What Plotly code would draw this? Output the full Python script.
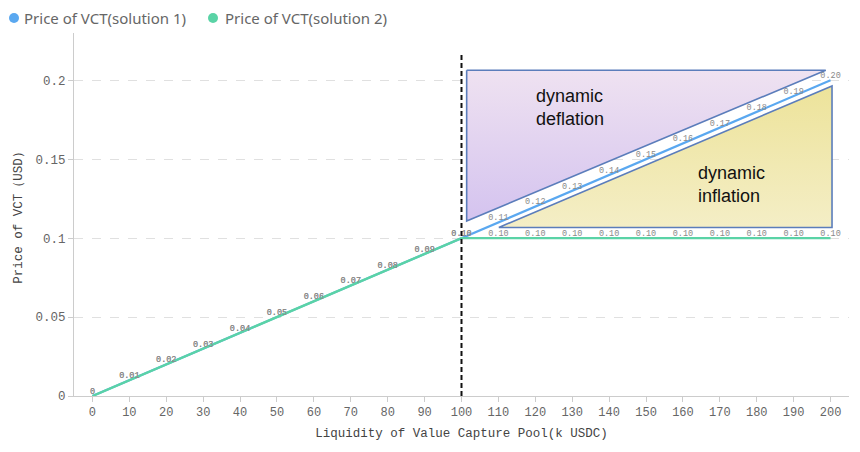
import plotly.graph_objects as go

# ---------------- data ----------------
liquidity = [0, 10, 20, 30, 40, 50, 60, 70, 80, 90, 100,
             110, 120, 130, 140, 150, 160, 170, 180, 190, 200]
price_solution1 = [0, 0.01, 0.02, 0.03, 0.04, 0.05, 0.06, 0.07, 0.08, 0.09, 0.10,
                   0.11, 0.12, 0.13, 0.14, 0.15, 0.16, 0.17, 0.18, 0.19, 0.20]
price_solution2 = [0, 0.01, 0.02, 0.03, 0.04, 0.05, 0.06, 0.07, 0.08, 0.09, 0.10,
                   0.10, 0.10, 0.10, 0.10, 0.10, 0.10, 0.10, 0.10, 0.10, 0.10]
series_names = ["Price of VCT(solution 1)", "Price of VCT(solution 2)"]

y_tick_vals = [0, 0.05, 0.1, 0.15, 0.2]
y_tick_text = ["0", "0.05", "0.1", "0.15", "0.2"]

# region triangles (data coordinates)
deflation_x = [101.4, 198.7, 101.4]
deflation_y = [0.2064, 0.2064, 0.1109]
inflation_x = [110.1, 200.4, 200.4]
inflation_y = [0.1068, 0.1964, 0.1068]
threshold_x = 100
threshold_top = 0.2177

# ---------------- styling ----------------
OFF = 8  # page body margin of the html page
W, H = 860 - OFF, 452 - OFF
ML, MR, MT, MB = 74 - OFF, 11, 33 - OFF, 56
PW, PH = W - ML - MR, H - MT - MB
BLUE = "#5aa8f0"
GREEN = "#5ad3a6"
OUTLINE = "#5b7dbb"
MONO = "Liberation Mono, DejaVu Sans Mono, monospace"
SANS = "Noto Sans, Liberation Sans, sans-serif"


def px_x(px):
    return (px - OFF - ML) / PW


def px_y(py):
    return (H - MB - (py - OFF)) / PH


def fmt(v):
    return "0" if v == 0 else f"{v:.2f}"


fig = go.Figure()

# triangles
fig.add_trace(go.Scatter(
    x=deflation_x + [deflation_x[0]], y=deflation_y + [deflation_y[0]],
    mode="lines", fill="toself",
    fillgradient=dict(type="vertical",
                      colorscale=[[0, "#d4c3ef"], [1, "#efe2f1"]]),
    line=dict(color=OUTLINE, width=1.6),
    hoverinfo="skip", showlegend=False))
fig.add_trace(go.Scatter(
    x=inflation_x + [inflation_x[0]], y=inflation_y + [inflation_y[0]],
    mode="lines", fill="toself",
    fillgradient=dict(type="vertical",
                      colorscale=[[0, "#f4eec6"], [1, "#ede39a"]]),
    line=dict(color=OUTLINE, width=1.6),
    hoverinfo="skip", showlegend=False))

# series
fig.add_trace(go.Scatter(
    x=liquidity, y=price_solution1, name=series_names[0],
    mode="lines+text", line=dict(color=BLUE, width=2.2),
    text=[fmt(v) for v in price_solution1], textposition="top center",
    textfont=dict(family=MONO, size=8.5, color="#8a8a8a"),
    showlegend=False))
fig.add_trace(go.Scatter(
    x=liquidity, y=price_solution2, name=series_names[1],
    mode="lines+text", line=dict(color=GREEN, width=2.4),
    text=[fmt(v) for v in price_solution2], textposition="top center",
    textfont=dict(family=MONO, size=8.5, color="#8a8a8a"),
    showlegend=False))

# threshold dashed line
fig.add_shape(type="line", xref="x", yref="y",
              x0=threshold_x, x1=threshold_x, y0=0, y1=threshold_top,
              line=dict(color="#111111", width=2, dash="5px,3px"))

# region labels
fig.add_annotation(x=119.6, y=0.1826, xref="x", yref="y", text="dynamic<br>deflation",
                   showarrow=False, xanchor="left", yanchor="middle", align="left",
                   font=dict(family="Liberation Sans, Arial, sans-serif", size=18, color="#111111"))
fig.add_annotation(x=163.5, y=0.1342, xref="x", yref="y", text="dynamic<br>inflation",
                   showarrow=False, xanchor="left", yanchor="middle", align="left",
                   font=dict(family="Liberation Sans, Arial, sans-serif", size=18, color="#111111"))

# manual legend (kept fully inside the figure area)
LEG_Y = 18
for cx, tx, color, name in [(14, 23, BLUE, series_names[0]), (213, 224, GREEN, series_names[1])]:
    fig.add_shape(type="circle", xref="paper", yref="paper",
                  xsizemode="pixel", ysizemode="pixel",
                  xanchor=px_x(cx), yanchor=px_y(LEG_Y),
                  x0=-5, x1=5, y0=-5, y1=5,
                  fillcolor=color, line=dict(width=0))
    fig.add_annotation(x=px_x(tx), y=px_y(LEG_Y), xref="paper", yref="paper",
                       text=name, showarrow=False, xanchor="left", yanchor="middle",
                       borderpad=0,
                       font=dict(family=SANS, size=15, color="#666666"))

fig.update_layout(
    width=W, height=H,
    margin=dict(l=ML, r=MR, t=MT, b=MB),
    paper_bgcolor="white", plot_bgcolor="white",
    showlegend=False,
    xaxis=dict(range=[-5, 205], tickvals=liquidity,
               showgrid=False, zeroline=False, automargin=False,
               showline=True, linecolor="#cccccc", linewidth=1,
               ticks="outside", ticklen=5, tickcolor="#cccccc",
               tickfont=dict(family=MONO, size=12, color="#666666"),
               title=dict(text="Liquidity of Value Capture Pool(k USDC)",
                          font=dict(family=MONO, size=12.5, color="#444444"),
                          standoff=8)),
    yaxis=dict(range=[0, 0.23], tickvals=y_tick_vals, ticktext=y_tick_text,
               showgrid=True, gridcolor="#e0e0e0", griddash="dash",
               zeroline=False, automargin=False,
               showline=True, linecolor="#cccccc", linewidth=1,
               ticks="outside", ticklen=5, tickcolor="#cccccc",
               tickfont=dict(family=MONO, size=12.5, color="#666666"),
               title=dict(text="Price of VCT（USD）",
                          font=dict(family=MONO, size=12.5, color="#444444"),
                          standoff=10)),
)

fig.write_html("out.html")
